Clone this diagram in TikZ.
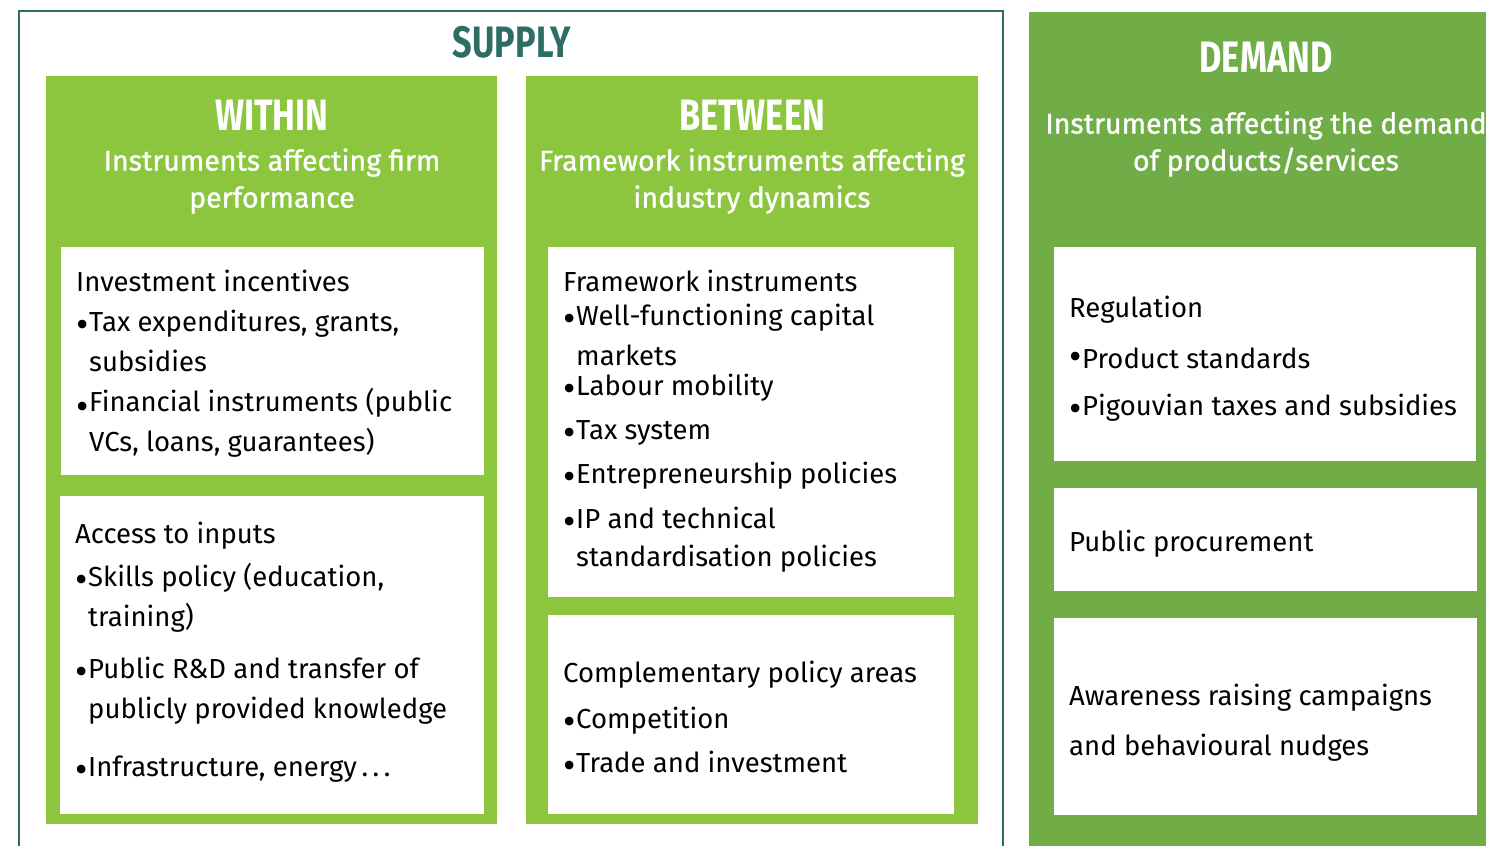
\documentclass[tikz,border=0pt]{standalone}
\usepackage{fontspec}
\setmainfont{Fira Sans}
\newfontfamily\headfont[FakeStretch=0.78]{Fira Sans}
\newfontfamily\subfont[FakeBold=1]{Fira Sans}
\usepackage{tikz}
\usetikzlibrary{positioning}

\definecolor{supplyteal}{HTML}{2E6D64}
\definecolor{withingreen}{HTML}{8CC63F}
\definecolor{demandgreen}{HTML}{70AD47}

\newcommand{\itm}[1][-6pt]{\makebox[13pt][l]{\raisebox{#1}{\fontsize{38}{40}\selectfont\textbullet}}}
\newcommand{\cnt}{\hspace*{13pt}}

\tikzset{
    heading/.style={font=\headfont\bfseries\fontsize{44}{44}\selectfont, text=white, inner sep=0pt},
    subhead/.style={font=\subfont\fontsize{28.5}{37}\selectfont, text=white, align=center, inner sep=0pt},
    listtext/.style={font=\fontsize{27.5}{40}\selectfont, align=left, anchor=north west, inner sep=0pt},
}

\begin{document}
\begin{tikzpicture}[x=1pt, y=-1pt]
    \useasboundingbox (0, 0) rectangle (1486, 846);
    \fill[white] (0, 0) rectangle (1486, 846);
    % supply frame, open at the bottom
    \draw[supplyteal, line width=2.5pt] (19, 880) -- (19, 11) -- (1003, 11) -- (1003, 880);
    \node[heading, text=supplyteal] (supply) at (512, 42) {SUPPLY};

    % panels
    \fill[withingreen] (46, 76) rectangle (497, 824);
    \fill[withingreen] (526, 76) rectangle (978, 824);
    \fill[demandgreen] (1029, 12) rectangle (1500, 880);

    % cards
    \fill[white] (61, 247) rectangle (484, 475);
    \fill[white] (60, 496) rectangle (484, 814);
    \fill[white] (548, 247) rectangle (954, 597);
    \fill[white] (548, 615) rectangle (954, 814);
    \fill[white] (1054, 247) rectangle (1476, 461);
    \fill[white] (1054, 488) rectangle (1477, 591);
    \fill[white] (1054, 618) rectangle (1477, 815);

    % headings
    \node[heading] (within) at (272, 115) {WITHIN};
    \node[subhead] (withinsub) at (272, 181) {Instruments affecting firm\\performance};
    \node[heading] (between) at (752, 115) {BETWEEN};
    \node[subhead] (betweensub) at (752, 181) {Framework instruments affecting\\industry dynamics};
    \node[heading] (demand) at (1266, 57) {DEMAND};
    \node[subhead] (demandsub) at (1266, 144) {Instruments affecting the demand\\of products/services};

    % lists
    \node[listtext] (invest) at (76, 270) {Investment incentives\\
        \itm Tax expenditures, grants,\\
        \cnt subsidies\\
        \itm[-8pt]Financial instruments (public\\
        \cnt VCs, loans, guarantees)};
    \node[listtext] (inputs) at (75, 522) {Access to inputs\\[3pt]
        \itm Skills policy (education,\\
        \cnt training)\\[12pt]
        \itm Public R\&D and transfer of\\
        \cnt publicly provided knowledge\\[18pt]
        \itm Infrastructure, energy\,.\,.\,.};
    \node[listtext] (framework) at (563, 270) {Framework instruments\\[-6pt]
        \itm Well-functioning capital\\
        \cnt markets\\[-10pt]
        \itm Labour mobility\\[4pt]
        \itm Tax system\\[4pt]
        \itm Entrepreneurship policies\\[5pt]
        \itm IP and technical\\[-2pt]
        \cnt standardisation policies};
    \node[listtext] (complement) at (563, 661) {Complementary policy areas\\[6pt]
        \itm Competition\\[4pt]
        \itm Trade and investment};
    \node[listtext] (regulation) at (1069, 296) {Regulation\\[11pt]
        \itm[-1pt]Product standards\\[7pt]
        \itm Pigouvian taxes and subsidies};
    \node[listtext] (procure) at (1069, 530) {Public procurement};
    \node[listtext] (aware) at (1069, 684) {Awareness raising campaigns\\[10pt]
        and behavioural nudges};
\end{tikzpicture}
\end{document}
